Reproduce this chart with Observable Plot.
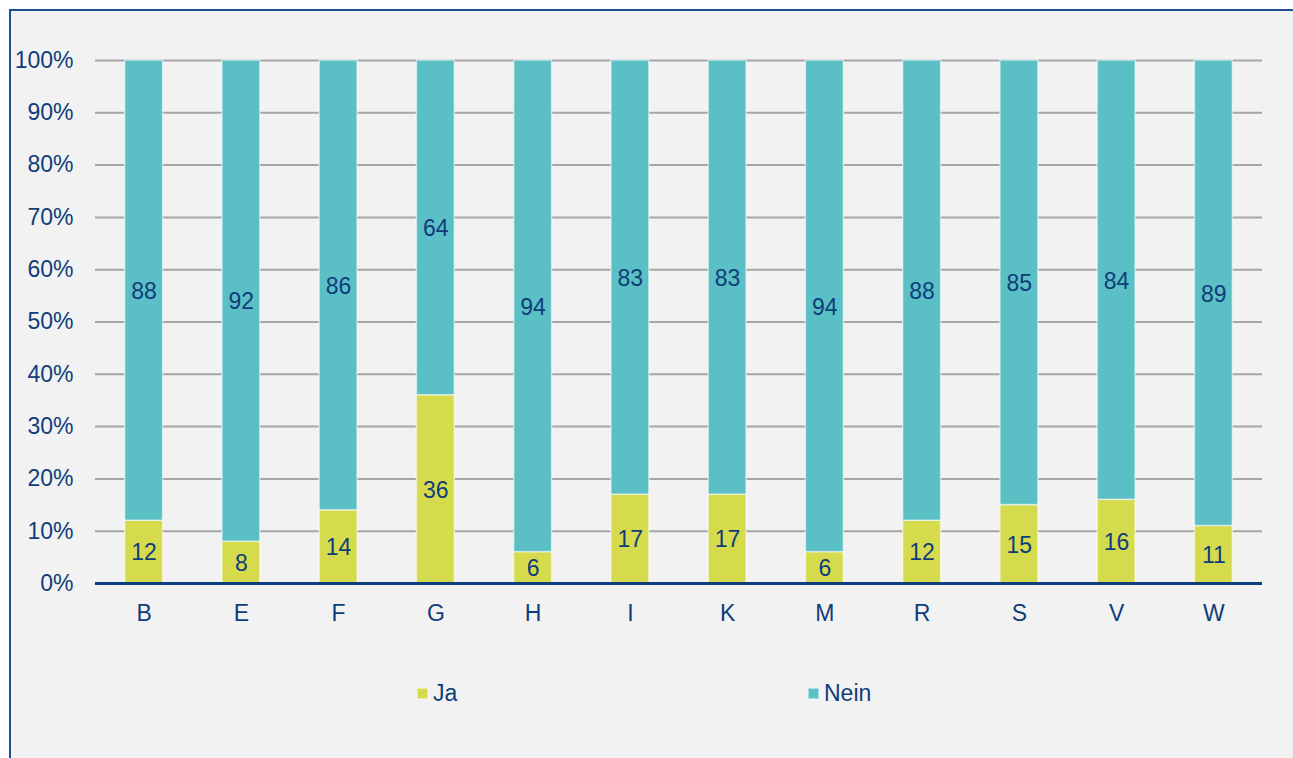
<!DOCTYPE html>
<html>
<head>
<meta charset="utf-8">
<script src="https://cdn.jsdelivr.net/npm/d3@7"></script>
<script src="https://cdn.jsdelivr.net/npm/@observablehq/plot@0.6"></script>
<style>
  html, body { margin: 0; padding: 0; background: #ffffff; overflow: hidden; width: 1293px; height: 758px; }
  #frame { position: absolute; left: 9px; top: 9px; width: 1320px; height: 800px;
           border: 2px solid #1f4e8c; background: #f2f2f2; font-family: "Liberation Sans", Arial, sans-serif; }
  #chart { position: absolute; left: 0; top: 0; }
  .leg { position: absolute; display: flex; align-items: center; font-size: 23px; color: #0f3d7a; line-height: 26px; }
  .sw { width: 11px; height: 11px; margin-right: 5px; box-sizing: border-box; border: 1px solid rgba(255,255,255,0.5); }
</style>
</head>
<body>
<div id="frame">
  <div id="chart"></div>
  <div class="leg" style="left:406px; top:669px;"><span class="sw" style="background:#d5db4d"></span><span>Ja</span></div>
  <div class="leg" style="left:797px; top:669px;"><span class="sw" style="background:#5bc0c5"></span><span>Nein</span></div>
</div>
<script>
const categories = ["B", "E", "F", "G", "H", "I", "K", "M", "R", "S", "V", "W"];
const seriesNames = ["Ja", "Nein"];
const ja = [12, 8, 14, 36, 6, 17, 17, 6, 12, 15, 16, 11];
const nein = [88, 92, 86, 64, 94, 83, 83, 94, 88, 85, 84, 89];
const seriesColors = ["#d5db4d", "#5bc0c5"];
const yTicks = [0, 10, 20, 30, 40, 50, 60, 70, 80, 90, 100];

const data = [];
categories.forEach((c, i) => data.push({cat: c, series: "Ja", value: ja[i]}));
categories.forEach((c, i) => data.push({cat: c, series: "Nein", value: nein[i]}));

const textColor = "#0f3d7a";
const fs = 23;

const chart = Plot.plot({
  width: 1282,
  height: 640,
  marginLeft: 84,
  marginRight: 31,
  marginTop: 49,
  marginBottom: 68,
  style: {fontFamily: "'Liberation Sans', Arial, sans-serif", fontSize: fs + "px", background: "transparent", color: textColor},
  x: {domain: categories, paddingInner: 0.61, paddingOuter: 0.305, round: false, label: null},
  y: {domain: [0, 100], label: null},
  color: {domain: seriesNames, range: seriesColors},
  marks: [
    Plot.gridY(yTicks, {stroke: "#a6a6a6", strokeOpacity: 1, strokeWidth: 2}),
    Plot.barY(data, {x: "cat", y: "value", fill: "series", stroke: "#ffffff", strokeOpacity: 0.55, strokeWidth: 1.5}),
    Plot.ruleY([0], {stroke: "#0d3f7f", strokeWidth: 3}),
    Plot.text(data, Plot.stackY({x: "cat", y: "value", z: "series", text: d => String(d.value), fill: textColor, fontSize: fs, dy: 1})),
    Plot.axisX({tickSize: 0, tickPadding: 21, fontSize: fs, fill: textColor, label: null}),
    Plot.axisY({ticks: yTicks, tickFormat: d => d + "%", tickSize: 0, tickPadding: 22, fontSize: fs, fill: textColor, label: null})
  ]
});
document.getElementById("chart").appendChild(chart);
</script>
</body>
</html>
